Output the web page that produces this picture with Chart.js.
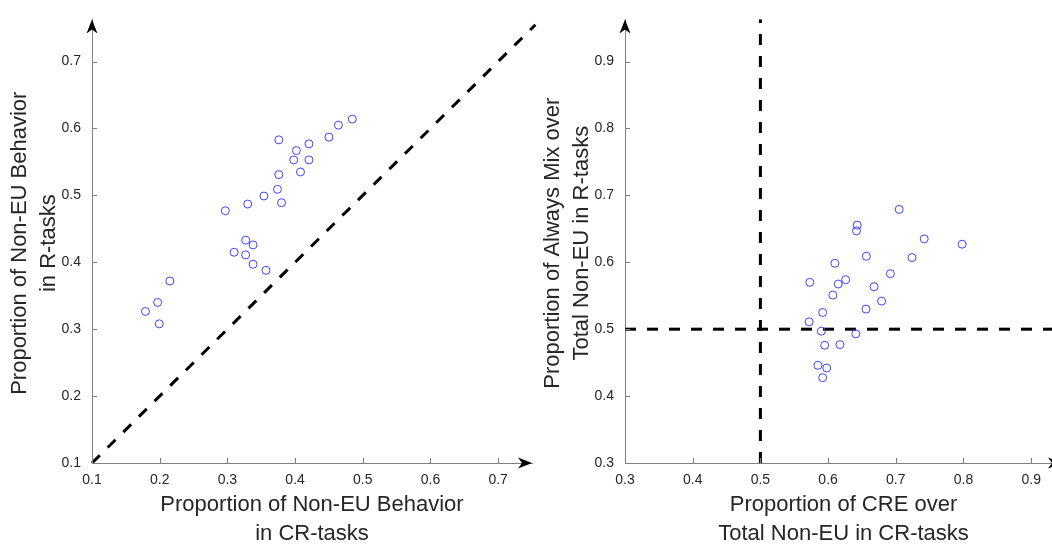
<!DOCTYPE html>
<html><head><meta charset="utf-8">
<script src="https://cdn.jsdelivr.net/npm/chart.js@4.4.1/dist/chart.umd.min.js"></script>
<style>
html,body{margin:0;padding:0;width:1052px;height:544px;overflow:hidden;background:#fff;}
#c1{position:absolute;left:0;top:0;}
#c2{position:absolute;left:540px;top:0;}
</style></head><body>
<canvas id="c1" width="545" height="544" style="width:545px;height:544px"></canvas>
<canvas id="c2" width="540" height="544" style="width:540px;height:544px"></canvas>
<script>
// ---- Left panel data ----
const crTasksNonEU = [0.376,0.4845,0.464,0.450,0.402,0.4205,0.398,0.4205,0.408,0.376,0.374,0.354,0.380,0.330,0.297,0.327,0.338,0.310,0.327,0.338,0.357,0.215,0.197,0.179,0.1994];
const rTasksNonEU  = [0.583,0.614,0.605,0.587,0.567,0.577,0.553,0.553,0.535,0.531,0.509,0.499,0.489,0.487,0.477,0.433,0.426,0.415,0.411,0.397,0.388,0.372,0.340,0.3265,0.308];
const diagonalLine = [0.1, 0.755];
const leftXTicks = [0.1,0.2,0.3,0.4,0.5,0.6,0.7];
const leftYTicks = [0.1,0.2,0.3,0.4,0.5,0.6,0.7];
const leftXRange = [0.1, 0.75];
const leftYRange = [0.1, 0.763];
const leftXTitle = ['Proportion of Non-EU Behavior','in CR-tasks'];
const leftYTitle = ['Proportion of Non-EU Behavior','in R-tasks'];

// ---- Right panel data ----
const creShareCR = [0.705,0.643,0.642,0.742,0.798,0.6565,0.724,0.610,0.692,0.626,0.573,0.615,0.668,0.679,0.607,0.656,0.592,0.572,0.590,0.641,0.595,0.6175,0.585,0.598,0.592];
const alwaysMixShareR = [0.679,0.6555,0.647,0.635,0.627,0.609,0.607,0.5985,0.583,0.574,0.570,0.5675,0.5635,0.542,0.551,0.530,0.525,0.511,0.497,0.493,0.476,0.477,0.446,0.442,0.4275];
const refLineX = 0.5;
const refLineY = 0.5;
const rightXTicks = [0.3,0.4,0.5,0.6,0.7,0.8,0.9];
const rightYTicks = [0.3,0.4,0.5,0.6,0.7,0.8,0.9];
const rightXRange = [0.3, 0.9455];
const rightYRange = [0.3, 0.963];
const rightXTitle = ['Proportion of CRE over','Total Non-EU in CR-tasks'];
const rightYTitle = ['Proportion of Always Mix over','Total Non-EU in R-tasks'];

const FONT = '"Liberation Sans", Arial, Helvetica, sans-serif';
const TEXT = '#262626';
const AXIS = '#808080';

function drawArrow(ctx, x, y, dir){
  const L=14, W=5.5, N=10;
  ctx.beginPath();
  if(dir==='up'){
    ctx.moveTo(x,y); ctx.lineTo(x-W,y+L); ctx.lineTo(x,y+N); ctx.lineTo(x+W,y+L);
  } else {
    ctx.moveTo(x,y); ctx.lineTo(x-L,y-W); ctx.lineTo(x-N,y); ctx.lineTo(x-L,y+W);
  }
  ctx.closePath(); ctx.fill();
}

const decor = {
  id:'decor',
  afterDraw(chart, args, o){
    const {ctx, chartArea:a, scales:{x,y}} = chart;
    ctx.save();
    ctx.strokeStyle = AXIS; ctx.lineWidth = 1;
    ctx.beginPath();
    x.ticks.forEach(t=>{const p=Math.round(x.getPixelForValue(t.value))+0.5; ctx.moveTo(p,a.bottom); ctx.lineTo(p,a.bottom-5);});
    y.ticks.forEach(t=>{const p=Math.round(y.getPixelForValue(t.value))+0.5; ctx.moveTo(a.left,p); ctx.lineTo(a.left+5,p);});
    ctx.stroke();
    ctx.fillStyle = '#000';
    drawArrow(ctx, a.left, a.top, 'up');
    drawArrow(ctx, a.right, a.bottom, 'right');
    ctx.fillStyle = TEXT;
    ctx.font = '22px ' + FONT;
    ctx.textAlign = 'center'; ctx.textBaseline = 'middle';
    const cx = (a.left + a.right)/2;
    o.xTitle.forEach((s,i)=>ctx.fillText(s, cx, 505 + i*29));
    ctx.translate(a.left - 72, (a.top + a.bottom)/2 + 2);
    ctx.rotate(-Math.PI/2);
    o.yTitle.forEach((s,i)=>ctx.fillText(s, 0, i*29));
    ctx.restore();
  }
};

function makeChart(id, xs, ys, lines, xr, yr, xt, yt, xTitle, yTitle, yWidth, padRight){
  const pts = xs.map((v,i)=>({x:v, y:ys[i]}));
  const datasets = lines.map(l=>({
    type:'line', data:l, showLine:true, borderColor:'#000', borderWidth:3,
    borderDash:[11,11], pointRadius:0, fill:false, clip:false, order:2
  }));
  datasets.push({
    type:'scatter', data:pts, pointStyle:'circle', pointRadius:4, borderWidth:1,
    borderColor:'#4040ff', backgroundColor:'rgba(0,0,0,0)', order:1
  });
  return new Chart(document.getElementById(id), {
    data:{datasets},
    options:{
      responsive:false, animation:false, events:[],
      layout:{padding:{left:0, top:15, right:padRight, bottom:0}},
      plugins:{legend:{display:false}, tooltip:{enabled:false}, decor:{xTitle, yTitle}},
      scales:{
        x:{type:'linear', min:xr[0], max:xr[1],
           afterBuildTicks: s=>{ s.ticks = xt.map(v=>({value:v})); },
           afterFit: s=>{ s.height = 81; },
           grid:{display:false, drawTicks:false},
           border:{display:true, color:AXIS, width:1},
           ticks:{padding:9, color:TEXT, font:{size:14, family:FONT}, callback:v=>Number(v).toFixed(1), maxRotation:0, autoSkip:false}},
        y:{type:'linear', min:yr[0], max:yr[1],
           afterBuildTicks: s=>{ s.ticks = yt.map(v=>({value:v})); },
           afterFit: s=>{ s.width = yWidth; },
           grid:{display:false, drawTicks:false},
           border:{display:true, color:AXIS, width:1},
           ticks:{padding:11, color:TEXT, font:{size:14, family:FONT}, callback:v=>Number(v).toFixed(1), autoSkip:false}}
      }
    },
    plugins:[decor]
  });
}

Chart.defaults.font.family = FONT;

// left chart: area x 92..532, y 15..463
makeChart('c1', crTasksNonEU, rTasksNonEU,
  [[{x:diagonalLine[0], y:diagonalLine[0]},{x:diagonalLine[1], y:diagonalLine[1]}]],
  leftXRange, leftYRange, leftXTicks, leftYTicks, leftXTitle, leftYTitle, 92, 545-532);

// right chart: canvas starts at 540; area x 625..1062, y 15..463
makeChart('c2', creShareCR, alwaysMixShareR,
  [[{x:refLineX, y:rightYRange[0]},{x:refLineX, y:rightYRange[1]}],
   [{x:rightXRange[0], y:refLineY},{x:rightXRange[1], y:refLineY}]],
  rightXRange, rightYRange, rightXTicks, rightYTicks, rightXTitle, rightYTitle, 625-540, 540-(1062-540));
</script>
</body></html>
